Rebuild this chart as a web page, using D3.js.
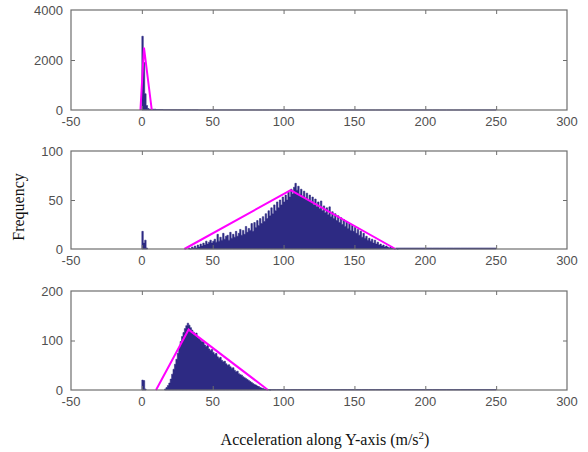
<!DOCTYPE html>
<html>
<head>
<meta charset="utf-8">
<script src="https://cdn.jsdelivr.net/npm/d3@7"></script>
<style>
  body { margin: 0; background: #fff; }
  svg { display: block; }
</style>
</head>
<body>
<div id="chart"></div>
<script>
// shared x axis
const xDomain = [-50, 300];
const xTicks = [-50, 0, 50, 100, 150, 200, 250, 300];

// panel 1 : counts per 1-wide bin starting at 0, tail in 5-wide bins starting at 5
const p1Counts = [2950, 1900, 650, 180, 60];
const p1Tail = [30, 20, 14, 10, 8, 7, 6, 5, 5, 4, 4, 3, 3, 3, 3, 2, 2, 2, 2, 2,
                2, 2, 2, 2, 2, 2, 2, 2, 2, 2, 2, 2, 2, 2, 2, 2, 2, 2, 2, 2,
                2, 2, 2, 2, 2, 2, 2, 2, 2];
const p1Fit = [[-1, 0], [1.5, 2500], [7, 0]];
const p1Ticks = [0, 2000, 4000];

// panel 2
const p2Spike = [18, 6, 9, 1];                 // bins 0..3
const p2Counts = [                              // bins 33..180
  1, 0, 2, 1, 3, 1, 4, 2, 5, 3, 6, 4, 8, 5, 7, 9, 6, 8,
  10, 7, 15, 8, 12, 9, 16, 10, 13, 14, 9, 17, 11, 15, 12, 18, 13, 16, 20, 14,
  19, 15, 23, 17, 21, 19, 26, 18, 27, 22,
  29, 24, 31, 26, 33, 28, 36, 31, 39, 34,
  42, 36, 45, 39, 48, 42, 50, 45, 53, 48,
  55, 50, 58, 53, 61, 56, 63, 67, 60, 64,
  56, 61, 54, 59, 52, 57, 50, 55, 48, 53,
  45, 51, 43, 48, 41, 49, 39, 44, 37, 42,
  35, 43, 33, 38, 31, 36, 29, 34, 27, 32,
  25, 30, 23, 28, 21, 26, 19, 24, 18, 22,
  16, 20, 14, 18, 12, 16, 11, 13, 9, 11,
  8, 10, 6, 9, 5, 7, 4, 5, 3, 4,
  2, 3, 2, 1, 2, 1, 1, 0, 1, 0];
const p2Tail = [1, 1, 1, 1, 1, 1, 1, 1, 1, 1, 1, 1, 1, 1];   // 5-wide bins from 180
const p2Fit = [[30, 0], [105, 60], [179, 0]];
const p2Ticks = [0, 50, 100];

// panel 3
const p3Spike = [20, 19, 2];                    // bins 0..2
const p3Counts = [                              // bins 16..90
  2, 5, 9, 14, 22, 32, 42, 52, 62, 74, 86, 98, 108, 116, 124, 130, 135,
  131, 126, 121, 117, 112, 115, 106, 104, 100, 97, 99, 91, 88, 90, 83, 80, 82,
  76, 72, 74, 67, 64, 66, 60, 57, 58, 53, 50, 51, 47, 44, 45, 40, 37, 38, 33,
  31, 30, 27, 25, 23, 21, 19, 17, 15, 13, 11, 10, 8, 7, 5, 4, 3, 2, 2, 1, 1, 0];
const p3Tail = [1, 1, 1, 1, 1, 1, 1, 1, 1, 1, 1, 1, 1, 1, 1, 1,
                1, 1, 1, 1, 1, 1, 1, 1, 1, 1, 1, 1, 1, 1, 1, 1]; // 5-wide bins from 90
const p3Fit = [[10, 0], [33, 122], [89, 0]];
const p3Ticks = [0, 100, 200];

// turn a counts array into bins {x0, x1, n}
function toBins(counts, start, w) {
  return counts.map((n, i) => ({ x0: start + i * w, x1: start + (i + 1) * w, n: n }));
}

// each group is a run of adjacent bins, drawn as one stepped area
const panels = [
  { top: 10, bottom: 110, yMax: 4000, ticks: p1Ticks, fit: p1Fit,
    groups: [toBins(p1Counts, 0, 1), toBins(p1Tail, 5, 5)] },
  { top: 151, bottom: 249, yMax: 100, ticks: p2Ticks, fit: p2Fit,
    groups: [toBins(p2Spike, 0, 1), toBins(p2Counts, 33, 1), toBins(p2Tail, 180, 5)] },
  { top: 291, bottom: 390, yMax: 200, ticks: p3Ticks, fit: p3Fit,
    groups: [toBins(p3Spike, 0, 1), toBins(p3Counts, 16, 1), toBins(p3Tail, 90, 5)] }
];

const W = 588, H = 452;
const barColor = "#2d2a83";
const axisColor = "#6e6e6e";
const tickText = "#505050";

const svg = d3.select("#chart").append("svg")
  .attr("width", W)
  .attr("height", H);

svg.append("rect").attr("width", W).attr("height", H).attr("fill", "#fff");

const x = d3.scaleLinear().domain(xDomain).range([71, 567]);

panels.forEach(p => {
  const y = d3.scaleLinear().domain([0, p.yMax]).range([p.bottom, p.top]);
  const g = svg.append("g");

  // histogram: outline through both edges of every bin
  const area = d3.area()
    .x(d => x(d[0]))
    .y0(p.bottom)
    .y1(d => y(d[1]));

  g.selectAll("path.hist")
    .data(p.groups.map(bins => bins.flatMap(b => [[b.x0, b.n], [b.x1, b.n]])))
    .enter().append("path")
    .attr("class", "hist")
    .attr("d", area)
    .attr("fill", barColor)
    .attr("stroke", barColor)
    .attr("stroke-width", 0.6);

  // fitted triangle
  g.append("path")
    .datum(p.fit)
    .attr("d", d3.line().x(d => x(d[0])).y(d => y(d[1])))
    .attr("fill", "none")
    .attr("stroke", "#ff00ff")
    .attr("stroke-width", 2);

  // inward ticks on all four sides
  const inner = xTicks.slice(1, -1);
  const yInner = p.ticks.slice(1, -1);

  g.append("g")
    .attr("transform", `translate(0,${p.bottom})`)
    .call(d3.axisTop(x).tickValues(inner).tickSize(4).tickFormat(""))
    .call(a => a.select(".domain").remove());
  g.append("g")
    .attr("transform", `translate(0,${p.top})`)
    .call(d3.axisBottom(x).tickValues(inner).tickSize(4).tickFormat(""))
    .call(a => a.select(".domain").remove());
  g.append("g")
    .attr("transform", `translate(${x(xDomain[0])},0)`)
    .call(d3.axisRight(y).tickValues(yInner).tickSize(4).tickFormat(""))
    .call(a => a.select(".domain").remove());
  g.append("g")
    .attr("transform", `translate(${x(xDomain[1])},0)`)
    .call(d3.axisLeft(y).tickValues(yInner).tickSize(4).tickFormat(""))
    .call(a => a.select(".domain").remove());

  g.selectAll(".tick line").attr("stroke", axisColor);

  // box
  g.append("rect")
    .attr("x", x(xDomain[0]))
    .attr("y", p.top)
    .attr("width", x(xDomain[1]) - x(xDomain[0]))
    .attr("height", p.bottom - p.top)
    .attr("fill", "none")
    .attr("stroke", axisColor)
    .attr("stroke-width", 1.2);

  // tick labels
  g.selectAll("text.xt")
    .data(xTicks)
    .enter().append("text")
    .attr("class", "xt")
    .attr("x", d => x(d))
    .attr("y", p.bottom + 16)
    .attr("text-anchor", "middle")
    .attr("font-family", "Liberation Sans, Arial, sans-serif")
    .attr("font-size", "13px")
    .attr("fill", tickText)
    .text(d => d);

  g.selectAll("text.yt")
    .data(p.ticks)
    .enter().append("text")
    .attr("class", "yt")
    .attr("x", 63)
    .attr("y", d => y(d) + 4.5)
    .attr("text-anchor", "end")
    .attr("font-family", "Liberation Sans, Arial, sans-serif")
    .attr("font-size", "13px")
    .attr("fill", tickText)
    .text(d => d);
});

// axis titles
svg.append("text")
  .attr("transform", "translate(24,207) rotate(-90)")
  .attr("text-anchor", "middle")
  .attr("font-family", "Liberation Serif, Times New Roman, serif")
  .attr("font-size", "16px")
  .attr("fill", "#111")
  .text("Frequency");

const xl = svg.append("text")
  .attr("x", 325)
  .attr("y", 445)
  .attr("text-anchor", "middle")
  .attr("font-family", "Liberation Serif, Times New Roman, serif")
  .attr("font-size", "16px")
  .attr("fill", "#111");
xl.append("tspan").text("Acceleration along Y-axis (m/s");
xl.append("tspan").attr("font-size", "11px").attr("dy", -6).text("2");
xl.append("tspan").attr("dy", 6).text(")");
</script>
</body>
</html>
